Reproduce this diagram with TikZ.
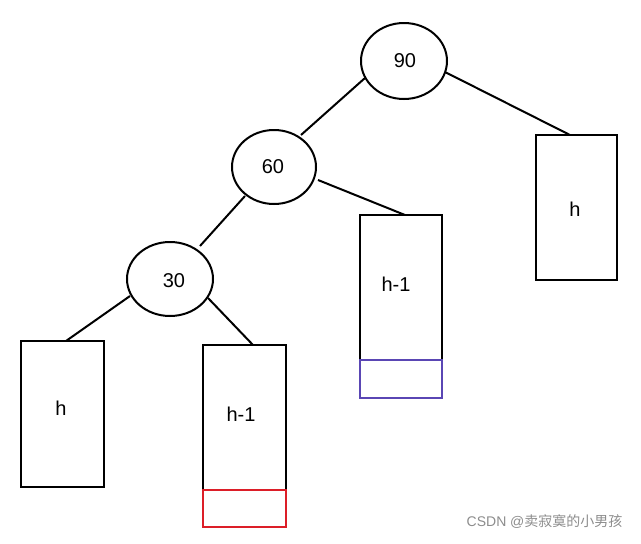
\documentclass[tikz,border=0pt]{standalone}
\usepackage{fontspec}
\setmainfont{Liberation Sans}
\newfontfamily\cjk{Noto Sans CJK SC}
\begin{document}
\begin{tikzpicture}[x=1pt,y=-1pt,
  nd/.style={draw,line width=2pt},
  bx/.style={draw,line width=2pt},
  ln/.style={line width=2pt},
  lb/.style={font=\fontsize{20}{20}\selectfont}]
\useasboundingbox (0,0) rectangle (641,544);
\draw[nd] (404,61) ellipse [x radius=43,y radius=38];
\node[lb] (n90) at (405,61) {90};
\draw[nd] (274,167) ellipse [x radius=42,y radius=37];
\node[lb] (n60) at (273,167) {60};
\draw[nd] (170,279) ellipse [x radius=43,y radius=37];
\node[lb] (n30) at (174,281) {30};
\draw[bx] (536,135) rectangle (617,280);
\node[lb] (rh) at (575,209) {h};
\draw[bx] (360,215) rectangle (442,360);
\node[lb] (mh) at (396,284) {h-1};
\draw[line width=2pt,draw={rgb,255:red,90;green,70;blue,180}] (360,360) rectangle (442,398);
\draw[bx] (21,341) rectangle (104,487);
\node[lb] (lh) at (61,408) {h};
\draw[bx] (203,345) rectangle (286,490);
\node[lb] (ch) at (241,414) {h-1};
\draw[line width=2pt,draw={rgb,255:red,220;green,30;blue,40}] (203,490) rectangle (286,527);
\draw[ln] (445,72) -- (570,135);
\draw[ln] (365,78) -- (301,135);
\draw[ln] (318,180) -- (405,215);
\draw[ln] (245,196) -- (200,246);
\draw[ln] (130,296) -- (66,341);
\draw[ln] (208,298) -- (253,345);
\node[text=black!45,font=\fontsize{14}{14}\selectfont,anchor=east] (wm) at (626,522) {CSDN @{\cjk 卖寂寞的小男孩}};
\end{tikzpicture}
\end{document}
